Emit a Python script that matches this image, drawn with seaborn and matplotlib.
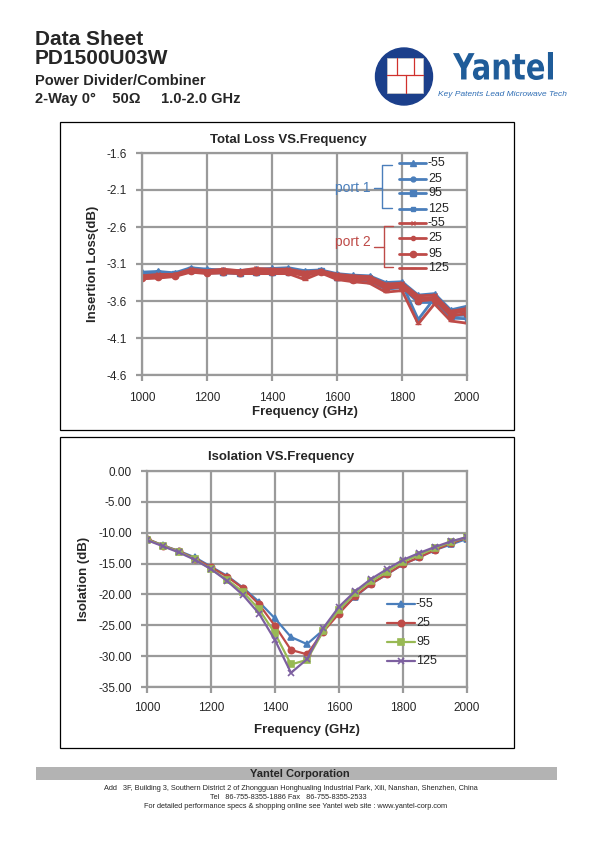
import numpy as np
import pandas as pd
import seaborn as sns
import matplotlib.pyplot as plt
from matplotlib.patches import Circle, Rectangle, PathPatch
from matplotlib.lines import Line2D
from matplotlib.textpath import TextPath
from matplotlib.font_manager import FontProperties
from matplotlib.transforms import Affine2D

sns.set_style('white')
plt.rcParams['font.family'] = ['Liberation Sans', 'DejaVu Sans']

# ---- data ----
freq = [1000, 1050, 1100, 1150, 1200, 1250, 1300, 1350, 1400, 1450, 1500,
        1550, 1600, 1650, 1700, 1750, 1800, 1850, 1900, 1950, 2000]
temps = ['-55', '25', '95', '125']

p1_m55 = [-3.21, -3.20, -3.22, -3.15, -3.17, -3.18, -3.19, -3.17, -3.16, -3.15, -3.19,
          -3.18, -3.23, -3.25, -3.26, -3.35, -3.34, -3.52, -3.50, -3.72, -3.67]
p1_25 = [-3.23, -3.21, -3.23, -3.17, -3.19, -3.20, -3.21, -3.19, -3.19, -3.18, -3.21,
         -3.19, -3.25, -3.27, -3.28, -3.38, -3.37, -3.85, -3.56, -3.76, -3.74]
p1_95 = [-3.25, -3.23, -3.24, -3.18, -3.20, -3.21, -3.22, -3.21, -3.21, -3.20, -3.22,
         -3.20, -3.27, -3.30, -3.31, -3.41, -3.40, -3.58, -3.58, -3.80, -3.79]
p1_125 = [-3.27, -3.25, -3.25, -3.20, -3.22, -3.22, -3.23, -3.22, -3.22, -3.22, -3.23,
          -3.21, -3.29, -3.32, -3.33, -3.44, -3.42, -3.62, -3.62, -3.83, -3.84]
p2_m55 = [-3.26, -3.24, -3.24, -3.17, -3.19, -3.17, -3.19, -3.16, -3.17, -3.17, -3.21,
          -3.19, -3.24, -3.26, -3.27, -3.37, -3.36, -3.53, -3.52, -3.74, -3.70]
p2_25 = [-3.28, -3.26, -3.25, -3.19, -3.21, -3.19, -3.21, -3.18, -3.19, -3.19, -3.24,
         -3.20, -3.26, -3.29, -3.30, -3.40, -3.38, -3.56, -3.55, -3.77, -3.73]
p2_95 = [-3.29, -3.28, -3.26, -3.20, -3.22, -3.21, -3.22, -3.21, -3.21, -3.21, -3.26,
         -3.21, -3.28, -3.31, -3.32, -3.43, -3.41, -3.60, -3.58, -3.80, -3.77]
p2_125 = [-3.30, -3.29, -3.27, -3.21, -3.23, -3.22, -3.23, -3.23, -3.23, -3.23, -3.31,
          -3.22, -3.31, -3.34, -3.36, -3.48, -3.46, -3.91, -3.64, -3.87, -3.90]

iso_m55 = [-11.0, -12.05, -12.97, -14.0, -15.5, -16.97, -18.9, -21.2, -23.9, -26.9, -28.05,
           -25.8, -22.8, -20.4, -18.3, -16.75, -15.1, -14.0, -12.8, -11.9, -11.0]
iso_25 = [-11.0, -12.1, -13.0, -14.2, -15.6, -17.1, -19.0, -21.6, -25.1, -29.0, -29.7,
          -26.1, -23.1, -20.3, -18.3, -16.7, -15.1, -14.0, -12.8, -11.7, -10.8]
iso_95 = [-11.1, -12.1, -13.1, -14.3, -15.9, -17.6, -19.6, -22.4, -26.3, -31.35, -30.6,
          -26.0, -22.5, -19.8, -17.9, -16.3, -14.7, -13.6, -12.5, -11.5, -10.7]
iso_125 = [-11.2, -12.2, -13.2, -14.4, -15.9, -17.8, -20.1, -23.1, -27.4, -32.7, -30.5,
           -25.5, -22.0, -19.5, -17.5, -15.9, -14.4, -13.3, -12.3, -11.4, -10.7]

BLUE = '#4A7EBB'
RED = '#BE4B48'
GREEN = '#98B954'
PURPLE = '#7D60A0'
GRID = '#9a9a9a'

loss_series = [
    (p1_m55, BLUE, '^', 4), (p1_25, BLUE, 'o', 3.5), (p1_95, BLUE, 's', 4), (p1_125, BLUE, 's', 2.5),
    (p2_m55, RED, 'x', 3.5), (p2_25, RED, 'o', 3), (p2_95, RED, 'o', 4.5), (p2_125, RED, '_', 4),
]
iso_series = [(iso_m55, BLUE, '^', 4.5), (iso_25, RED, 'o', 4.5), (iso_95, GREEN, 's', 4.5), (iso_125, PURPLE, 'x', 4.5)]

W, H = 595, 842
fig = plt.figure(figsize=(W / 100, H / 100), dpi=100)
fig.patch.set_facecolor('white')


def style_axes(ax):
    ax.grid(True, color=GRID, linewidth=1.6)
    for sp in ax.spines.values():
        sp.set_color(GRID)
        sp.set_linewidth(1.6)
    ax.tick_params(axis='both', direction='out', length=4, width=1.6, color=GRID,
                   labelsize=8.5, left=True, bottom=True)
    ax.tick_params(axis='x', pad=8)
    ax.tick_params(axis='y', pad=7)
    ax.set_axisbelow(True)


# ---- top chart ----
ax1 = fig.add_axes([142 / W, 1 - 375 / H, 325 / W, 222 / H])
for vals, col, mk, ms in loss_series:
    sns.lineplot(x=freq, y=vals, ax=ax1, color=col, marker=mk, markersize=ms,
                 markeredgecolor=col, markeredgewidth=1, linewidth=2.0)
ax1.set_xlim(1000, 2000)
ax1.set_ylim(-4.6, -1.6)
ax1.set_xticks(np.arange(1000, 2001, 200))
ax1.set_yticks(np.arange(-4.6, -1.55, 0.5))
ax1.set_yticklabels([f'{v:.1f}' for v in np.arange(-4.6, -1.55, 0.5)])
style_axes(ax1)
ax1.set_xlabel('Frequency (GHz)', fontsize=9.5, fontweight='bold', labelpad=2)
ax1.set_ylabel('Insertion Loss(dB)', fontsize=9.5, fontweight='bold', labelpad=5)

# ---- bottom chart ----
ax2 = fig.add_axes([147 / W, 1 - 687 / H, 320 / W, 216 / H])
for vals, col, mk, ms in iso_series:
    sns.lineplot(x=freq, y=vals, ax=ax2, color=col, marker=mk, markersize=ms,
                 markeredgecolor=col, markeredgewidth=1.2, linewidth=1.6)
ax2.set_xlim(1000, 2000)
ax2.set_ylim(-35, 0)
ax2.set_xticks(np.arange(1000, 2001, 200))
ax2.set_yticks(np.arange(-35, 1, 5))
ax2.set_yticklabels([f'{v:.2f}' for v in np.arange(-35, 1, 5)])
style_axes(ax2)
ax2.tick_params(axis='x', pad=7)
ax2.set_xlabel('Frequency (GHz)', fontsize=9.5, fontweight='bold', labelpad=7)
ax2.set_ylabel('Isolation (dB)', fontsize=9.5, fontweight='bold', labelpad=6)

# ---- overlay in pixel coordinates ----
ov = fig.add_axes([0, 0, 1, 1], zorder=10)
ov.set_xlim(0, W)
ov.set_ylim(H, 0)
ov.axis('off')
ov.patch.set_alpha(0)

# header
ov.text(35, 45, 'Data Sheet', fontsize=15, fontweight='bold', va='baseline')
ov.text(35, 64, 'PD1500U03W', fontsize=15, fontweight='bold', va='baseline')
ov.text(35, 85, 'Power Divider/Combiner', fontsize=10.5, fontweight='bold', va='baseline')
ov.text(35, 103, '2-Way 0°    50Ω     1.0-2.0 GHz', fontsize=10.5, fontweight='bold', va='baseline')

# logo
ov.add_patch(Circle((404, 76.5), 28.5, color='#1B3F8B'))
ov.add_patch(Rectangle((387, 58), 36, 35, facecolor='white', edgecolor='#cccccc', lw=0.5))
ov.plot([387, 423], [75, 75], color='#D0312D', lw=0.9)
ov.plot([397, 397], [58, 75], color='#D0312D', lw=0.9)
ov.plot([414, 414], [58, 75], color='#D0312D', lw=0.9)
ov.plot([405.5, 405.5], [75, 93], color='#D0312D', lw=0.9)

tp = TextPath((0, 0), 'Yantel', size=10, prop=FontProperties(family='DejaVu Sans', weight='bold'))
bb = tp.get_extents()
sx = 100 / bb.width
sy = 28 / bb.height
tr = Affine2D().translate(-bb.x0, -bb.y0).scale(sx, -sy).translate(453, 80)
ov.add_patch(PathPatch(tr.transform_path(tp), facecolor='#1F5C99', edgecolor='none'))
ov.text(502, 96, 'Key Patents Lead Microwave Tech', fontsize=6, style='italic',
        color='#2E6DB4', ha='center', va='baseline')

# chart frames and titles
ov.add_patch(Rectangle((60, 122), 454, 308, fill=False, edgecolor='black', lw=0.9))
ov.add_patch(Rectangle((60, 437), 454, 311, fill=False, edgecolor='black', lw=0.9))
ov.text(288, 143, 'Total Loss VS.Frequency', fontsize=9.5, fontweight='bold', ha='center', va='baseline')
ov.text(281, 460, 'Isolation VS.Frequency', fontsize=9.5, fontweight='bold', ha='center', va='baseline')

# top legend
leg_y = [163.3, 179, 193.3, 209, 223.3, 238.3, 254, 268.3]
for (vals, col, mk, ms), yy, lab in zip(loss_series, leg_y, temps + temps):
    ov.add_line(Line2D([399, 426], [yy, yy], color=col, lw=2.0))
    ov.add_line(Line2D([412.5], [yy], color=col, marker=mk, markersize=ms, markeredgecolor=col))
    ov.text(428, yy, lab, fontsize=9, va='center', ha='left')

# brackets
ov.plot([392, 382, 382, 392], [165, 165, 208, 208], color=BLUE, lw=1)
ov.plot([374, 382], [188, 188], color=BLUE, lw=1)
ov.text(353, 188, 'port 1', fontsize=10, color=BLUE, ha='center', va='center')
ov.plot([393, 384, 384, 393], [226, 226, 267, 267], color=RED, lw=1)
ov.plot([374, 384], [247, 247], color=RED, lw=1)
ov.text(353, 242, 'port 2', fontsize=10, color=RED, ha='center', va='center')

# bottom legend
leg2_y = [604.3, 623.3, 642.3, 661]
for (vals, col, mk, ms), yy, lab in zip(iso_series, leg2_y, temps):
    ov.add_line(Line2D([387, 415], [yy, yy], color=col, lw=1.6))
    ov.add_line(Line2D([401], [yy], color=col, marker=mk, markersize=ms, markeredgecolor=col,
                       markeredgewidth=1.2))
    ov.text(416, yy, lab, fontsize=9, va='center', ha='left')

# footer
ov.add_patch(Rectangle((36, 767), 521, 13, facecolor='#b3b3b3', edgecolor='none'))
ov.text(300, 774, 'Yantel Corporation', fontsize=8, fontweight='bold', ha='center', va='center')
ov.text(291, 788, 'Add   3F, Building 3, Southern District 2 of Zhongguan Honghualing Industrial Park, Xili, Nanshan, Shenzhen, China',
        fontsize=5.3, ha='center', va='center')
ov.text(288, 797.5, 'Tel   86-755-8355-1886 Fax   86-755-8355-2533', fontsize=5.3, ha='center', va='center')
ov.text(296, 807, 'For detailed performance specs & shopping online see Yantel web site : www.yantel-corp.com',
        fontsize=5.3, ha='center', va='center')

fig.savefig('out.png', dpi=100)
